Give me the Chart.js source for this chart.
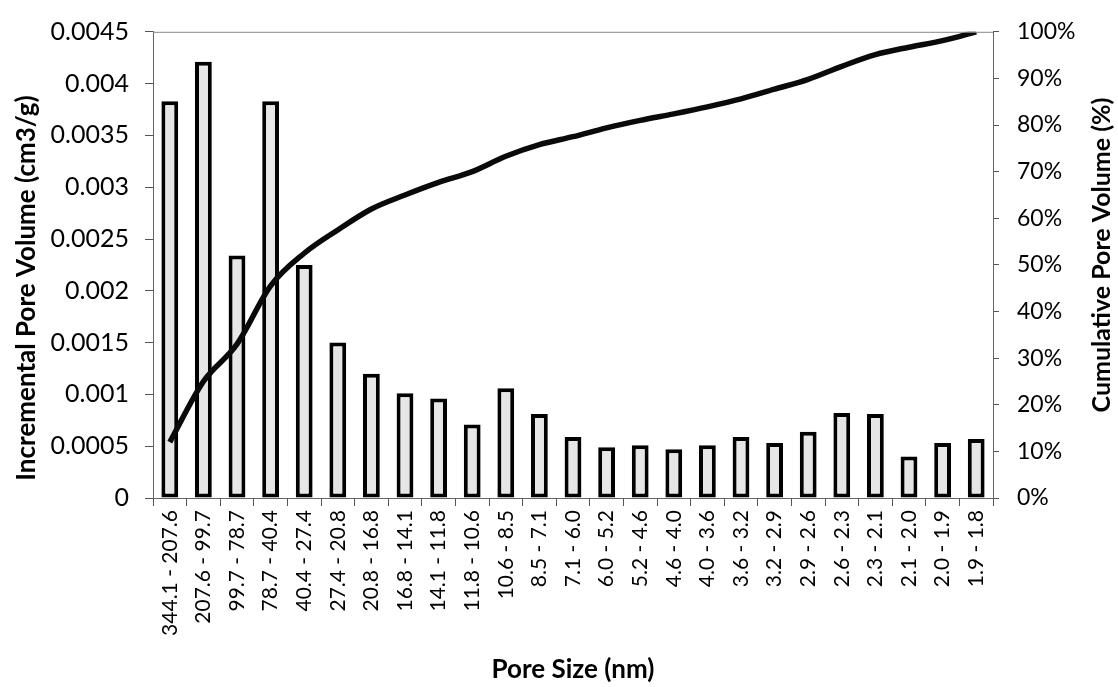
<!DOCTYPE html>
<html>
<head>
<meta charset="utf-8">
<script src="https://cdn.jsdelivr.net/npm/chart.js@4.4.1/dist/chart.umd.min.js"></script>
<style>
  html, body { margin: 0; padding: 0; background: #fff; }
  #wrap { width: 1118px; height: 687px; }
</style>
</head>
<body>
<div id="wrap"><canvas id="poreChart" width="1118" height="687"></canvas></div>
<script>
// pore size bins (nm)
const poreSizes = [
  "344.1 - 207.6", "207.6 - 99.7", "99.7 - 78.7", "78.7 - 40.4", "40.4 - 27.4",
  "27.4 - 20.8", "20.8 - 16.8", "16.8 - 14.1", "14.1 - 11.8", "11.8 - 10.6",
  "10.6 - 8.5", "8.5 - 7.1", "7.1 - 6.0", "6.0 - 5.2", "5.2 - 4.6",
  "4.6 - 4.0", "4.0 - 3.6", "3.6 - 3.2", "3.2 - 2.9", "2.9 - 2.6",
  "2.6 - 2.3", "2.3 - 2.1", "2.1 - 2.0", "2.0 - 1.9", "1.9 - 1.8"
];

// incremental pore volume (cm3/g)
const incrementalVolume = [
  0.00383, 0.00421, 0.00234, 0.00383, 0.00225,
  0.00150, 0.00120, 0.00101, 0.00096, 0.00071,
  0.00106, 0.00081, 0.00059, 0.00049, 0.00051,
  0.00047, 0.00051, 0.00059, 0.00053, 0.00064,
  0.00082, 0.00081, 0.00040, 0.00053, 0.00057
];

// cumulative pore volume (%)
const cumulativeVolume = [
  12, 25, 33, 45.5, 52.5,
  57.5, 62, 65, 67.7, 70,
  73.3, 75.8, 77.5, 79.4, 81,
  82.4, 83.9, 85.6, 87.7, 89.8,
  92.6, 95.1, 96.7, 98.1, 100
];

const FONT = "Lato";
const axisBorder = { display: true, color: "#666", width: 1, dash: [2, 1] };

// y axis titles drawn by hand so they sit like the original
const sideTitles = {
  id: "sideTitles",
  afterDraw(chart) {
    const c = chart.ctx;
    const a = chart.chartArea;
    c.save();
    // thin top frame line
    c.strokeStyle = "#888";
    c.lineWidth = 1;
    c.beginPath();
    c.moveTo(a.left, a.top + 0.5);
    c.lineTo(a.right, a.top + 0.5);
    c.stroke();

    c.fillStyle = "#000";
    c.font = "bold 26px " + FONT;
    c.textAlign = "center";
    c.textBaseline = "middle";
    c.translate(27, 288);
    c.rotate(-Math.PI / 2);
    c.fillText("Incremental Pore Volume (cm3/g)", 0, 0);
    c.restore();

    c.save();
    c.fillStyle = "#000";
    c.font = "bold 25px " + FONT;
    c.textAlign = "center";
    c.textBaseline = "middle";
    c.translate(1102, 255);
    c.rotate(-Math.PI / 2);
    c.fillText("Cumulative Pore Volume (%)", 0, 0);
    c.restore();
  }
};

new Chart(document.getElementById("poreChart"), {
  type: "bar",
  data: {
    labels: poreSizes,
    datasets: [
      {
        type: "line",
        label: "Cumulative",
        data: cumulativeVolume,
        yAxisID: "y1",
        borderColor: "#0a0a0a",
        borderWidth: 5.5,
        pointRadius: 0,
        cubicInterpolationMode: "monotone",
        fill: false,
        order: 0
      },
      {
        type: "bar",
        label: "Incremental",
        data: incrementalVolume,
        yAxisID: "y",
        backgroundColor: "#e6e6e6",
        borderColor: "#000",
        borderWidth: 4,
        borderSkipped: false,
        barPercentage: 0.5,
        categoryPercentage: 1.0,
        order: 1
      }
    ]
  },
  options: {
    responsive: false,
    animation: false,
    layout: { padding: { top: 27, right: 0, left: 0, bottom: 0 } },
    plugins: {
      legend: { display: false },
      tooltip: { enabled: false }
    },
    scales: {
      x: {
        border: axisBorder,
        grid: { display: true, drawOnChartArea: false, drawTicks: true, tickLength: 8, color: "#555", offset: true },
        ticks: {
          color: "#000",
          font: { family: FONT, size: 21 },
          minRotation: 90,
          maxRotation: 90,
          autoSkip: false,
          padding: 4
        },
        title: {
          display: true,
          text: "Pore Size (nm)",
          color: "#000",
          font: { family: FONT, size: 26, weight: "bold" },
          padding: { top: 0, bottom: 2 }
        },
        afterFit(scale) { scale.height = 189; }
      },
      y: {
        position: "left",
        min: 0,
        max: 0.0045,
        border: axisBorder,
        grid: { display: true, drawOnChartArea: false, drawTicks: true, tickLength: 8, color: "#555" },
        ticks: {
          stepSize: 0.0005,
          color: "#000",
          font: { family: FONT, size: 25 },
          padding: 16,
          callback: v => String(Number(v.toFixed(4)))
        },
        afterFit(scale) { scale.width = 153; }
      },
      y1: {
        position: "right",
        min: 0,
        max: 100,
        border: axisBorder,
        grid: { display: true, drawOnChartArea: false, drawTicks: true, tickLength: 6, color: "#555" },
        ticks: {
          stepSize: 10,
          color: "#000",
          font: { family: FONT, size: 23 },
          padding: 18,
          callback: v => v + "%"
        },
        afterFit(scale) { scale.width = 125; }
      }
    }
  },
  plugins: [sideTitles]
});
</script>
</body>
</html>
